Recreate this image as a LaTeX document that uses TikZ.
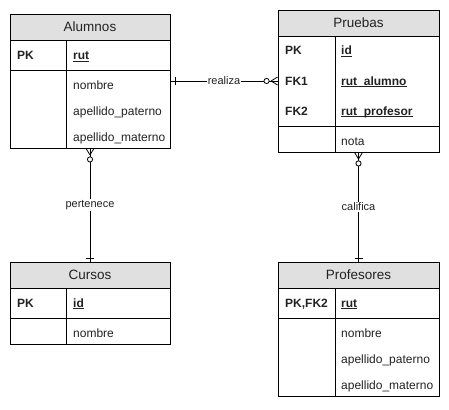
\documentclass[tikz,border=0pt]{standalone}
\usepackage{fontspec}
\setmainfont{Liberation Sans}
\usetikzlibrary{calc}
\definecolor{hdrgray}{HTML}{E0E0E0}
\definecolor{txt}{HTML}{222222}
\newcommand\ulk[1]{\setbox0\hbox{#1}\rlap{\rule[-1.8pt]{\wd0}{0.7pt}}\box0}
\tikzset{
  ln/.style={line width=0.9pt, black},
  ebox/.style={ln, draw, inner sep=0pt, minimum width=#1},
  hdr/.style={ln, draw, fill=hdrgray, inner sep=0pt, minimum width=#1, minimum height=26pt,
    font=\fontsize{13.5}{15}\selectfont, text=txt, anchor=north},
  attr/.style={inner sep=0pt, anchor=base west, font=\fontsize{12}{14}\selectfont, text=txt},
  keyt/.style={attr, font=\fontsize{12}{14}\selectfont\bfseries},
  lbl/.style={fill=white, inner sep=1pt, font=\fontsize{11}{13}\selectfont, text=txt},
  marker/.style={line width=0.8pt, black},
  circ/.style={line width=0.8pt, draw=black, fill=white},
}
\begin{document}
\begin{tikzpicture}[x=1pt, y=-1pt]
\useasboundingbox (0,0) rectangle (449,409);
% ---------- Alumnos
\node[ebox=160pt, minimum height=134pt] (alumnos) at (90,81) {};
\node[hdr=160pt] (alumnosH) at (alumnos.north) {Alumnos};
\draw[ln] (10,70) -- (170,70);
\draw[ln] (alumnosH.south -| 66,0) -- (alumnos.south -| 66,0);
\node[keyt] (a1) at (17,60) {PK};
\node[keyt] (a2) at (73,60) {\ulk{rut}};
\node[attr] (a3) at (73,89) {nombre};
\node[attr] (a4) at (73,115) {apellido\_paterno};
\node[attr] (a5) at (73,141) {apellido\_materno};
% ---------- Pruebas
\node[ebox=161pt, minimum height=142pt] (pruebas) at (358.5,81) {};
\node[hdr=161pt] (pruebasH) at (pruebas.north) {Pruebas};
\draw[ln] (278,126.5) -- (439,126.5);
\draw[ln] (pruebasH.south -| 335,0) -- (pruebas.south -| 335,0);
\node[keyt] (p1) at (285,55) {PK};
\node[keyt] (p2) at (341,55) {\ulk{id}};
\node[keyt] (p3) at (285,85) {FK1};
\node[keyt] (p4) at (341,85) {\ulk{rut\_alumno}};
\node[keyt] (p5) at (285,115) {FK2};
\node[keyt] (p6) at (341,115) {\ulk{rut\_profesor}};
\node[attr] (p7) at (341,145) {nota};
% ---------- Cursos
\node[ebox=160pt, minimum height=82pt] (cursos) at (90,303) {};
\node[hdr=160pt] (cursosH) at (cursos.north) {Cursos};
\draw[ln] (10,318) -- (170,318);
\draw[ln] (cursosH.south -| 66,0) -- (cursos.south -| 66,0);
\node[keyt] (c1) at (17,307) {PK};
\node[keyt] (c2) at (73,307) {\ulk{id}};
\node[attr] (c3) at (73,337) {nombre};
% ---------- Profesores
\node[ebox=161pt, minimum height=134pt] (profesores) at (358.5,329) {};
\node[hdr=161pt] (profesoresH) at (profesores.north) {Profesores};
\draw[ln] (278,318) -- (439,318);
\draw[ln] (profesoresH.south -| 335,0) -- (profesores.south -| 335,0);
\node[keyt] (f1) at (285,307) {PK,FK2};
\node[keyt] (f2) at (341,307) {\ulk{rut}};
\node[attr] (f3) at (341,337) {nombre};
\node[attr] (f4) at (341,363) {apellido\_paterno};
\node[attr] (f5) at (341,389) {apellido\_materno};
% ---------- realiza
\draw[marker] (alumnos.east) -- node[lbl] (realiza) {realiza} (pruebas.west);
\draw[marker] ($(alumnos.east)+(5,-4)$) -- ++(0,8);
\draw[marker] ($(pruebas.west)+(-6.5,0)$) -- ($(pruebas.west)+(0,-4)$);
\draw[marker] ($(pruebas.west)+(-6.5,0)$) -- ($(pruebas.west)+(0,4)$);
\draw[circ] ($(pruebas.west)+(-11,0)$) circle (2.6pt);
% ---------- pertenece
\draw[marker] (alumnos.south) -- node[lbl] (pertenece) {pertenece} (cursos.north);
\draw[marker] ($(alumnos.south)+(0,6.5)$) -- ($(alumnos.south)+(-4,0)$);
\draw[marker] ($(alumnos.south)+(0,6.5)$) -- ($(alumnos.south)+(4,0)$);
\draw[circ] ($(alumnos.south)+(0,11)$) circle (2.6pt);
\draw[marker] ($(cursos.north)+(-4,-3)$) -- ++(8,0);
% ---------- califica
\draw[marker] (pruebas.south) -- node[lbl] (califica) {califica} (profesores.north);
\draw[marker] ($(pruebas.south)+(0,6.5)$) -- ($(pruebas.south)+(-4,0)$);
\draw[marker] ($(pruebas.south)+(0,6.5)$) -- ($(pruebas.south)+(4,0)$);
\draw[circ] ($(pruebas.south)+(0,11)$) circle (2.6pt);
\draw[marker] ($(profesores.north)+(-4,-3)$) -- ++(8,0);
\end{tikzpicture}
\end{document}
